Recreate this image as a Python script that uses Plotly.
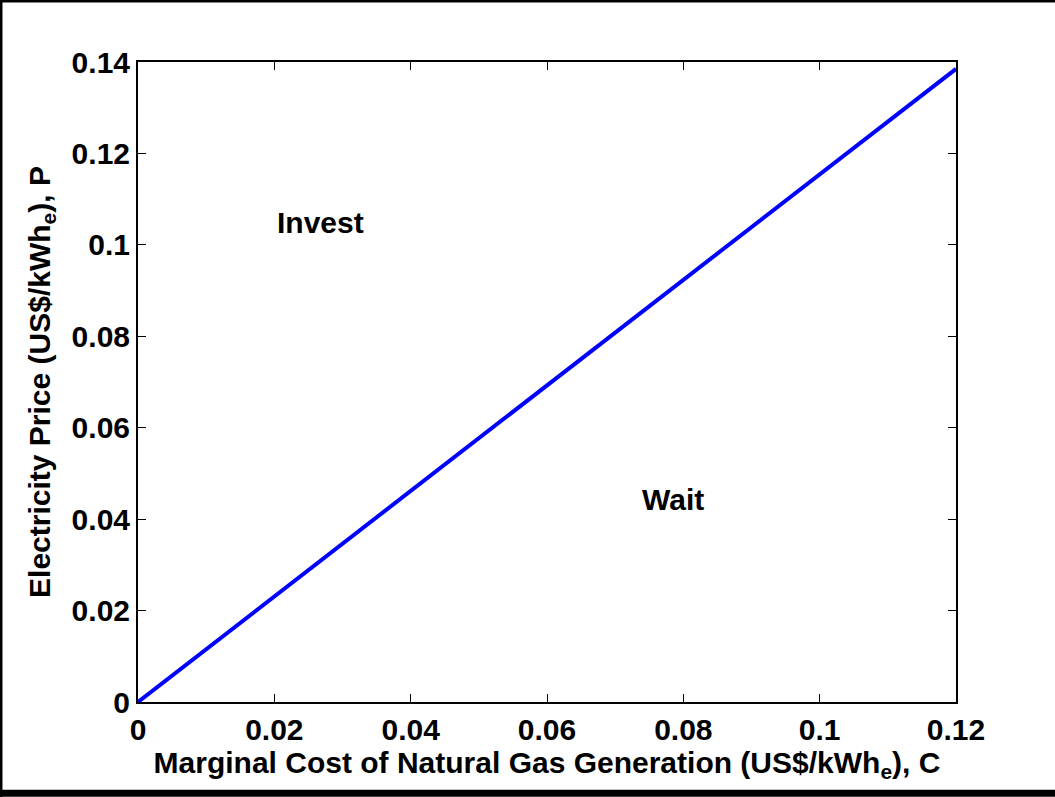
import plotly.graph_objects as go

cost = [0.0, 0.12]
price = [0.0, 0.1385]
region_labels = ["Invest", "Wait"]
region_x = [0.0267, 0.0785]
region_y = [0.105, 0.0442]
x_ticks = [0, 0.02, 0.04, 0.06, 0.08, 0.1, 0.12]
y_ticks = [0, 0.02, 0.04, 0.06, 0.08, 0.1, 0.12, 0.14]

FONT = "Liberation Sans, Arial, Helvetica"

fig = go.Figure()
fig.add_trace(go.Scatter(x=cost, y=price, mode="lines",
                         line=dict(color="#0000ff", width=4), showlegend=False))
for t, x, y in zip(region_labels, region_x, region_y):
    fig.add_annotation(x=x, y=y, text="<b>%s</b>" % t, showarrow=False,
                       font=dict(size=30, color="black", family=FONT))

axis_common = dict(showline=True, linecolor="black", linewidth=2, mirror="ticks",
                   ticks="inside", ticklen=8, tickwidth=1, tickcolor="black",
                   showgrid=False, zeroline=False,
                   tickfont=dict(size=30, color="black", family=FONT))

def fmt(v):
    return "<b>%s</b>" % ("0" if v == 0 else ("%g" % v))

fig.update_xaxes(range=[0, 0.12], tickvals=x_ticks, ticktext=[fmt(v) for v in x_ticks],
                 title=dict(text="<b>Marginal Cost of Natural Gas Generation (US$/kWh<sub>e</sub>), C</b>",
                            font=dict(size=30, color="black", family=FONT), standoff=2),
                 **axis_common)
fig.update_yaxes(range=[0, 0.14], tickvals=y_ticks, ticktext=[fmt(v) for v in y_ticks],
                 title=dict(text="<b>Electricity Price (US$/kWh<sub>e</sub>), P</b>",
                            font=dict(size=30, color="black", family=FONT), standoff=12),
                 **axis_common)

# figure frame: top, left, bottom edges
fig.add_shape(type="line", xref="paper", yref="paper", x0=-0.2, x1=1.2, y0=1.0953, y1=1.0953,
              line=dict(color="black", width=3), layer="above")
fig.add_shape(type="line", xref="paper", yref="paper", x0=-0.1675, x1=-0.1675, y0=-0.2, y1=1.2,
              line=dict(color="black", width=3), layer="above")
fig.add_shape(type="line", xref="paper", yref="paper", x0=-0.2, x1=1.2, y0=-0.1425, y1=-0.1425,
              line=dict(color="black", width=7), layer="above")

fig.update_layout(width=1055, height=797, margin=dict(l=138, r=99, t=62, b=95),
                  plot_bgcolor="white", paper_bgcolor="white")
fig.write_html("out.html", config={"displayModeBar": False},
               post_script="document.body.style.margin='0px';")
